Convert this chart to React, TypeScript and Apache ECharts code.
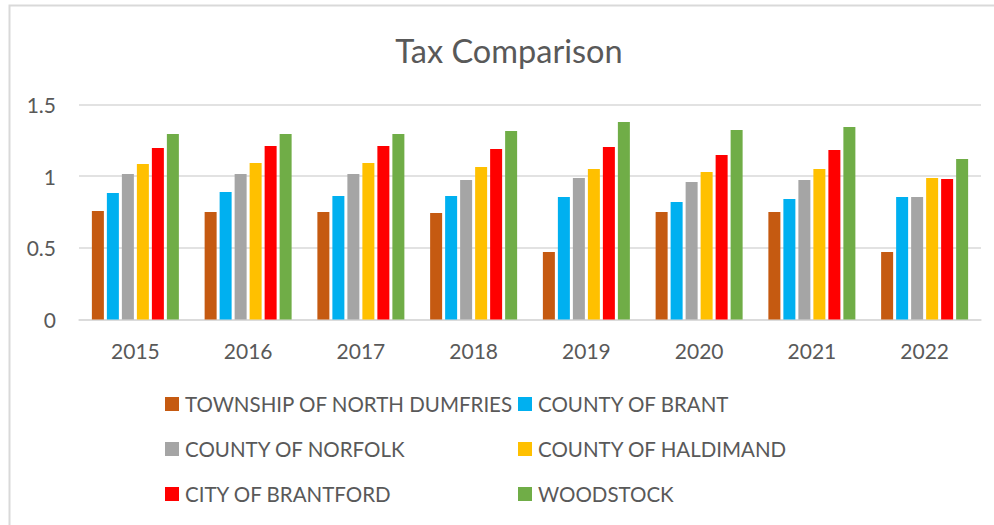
import React, { useEffect, useRef } from "react";
import * as echarts from "echarts";

const years = ["2015", "2016", "2017", "2018", "2019", "2020", "2021", "2022"];
const seriesNames = [
  "TOWNSHIP OF NORTH DUMFRIES",
  "COUNTY OF BRANT",
  "COUNTY OF NORFOLK",
  "COUNTY OF HALDIMAND",
  "CITY OF BRANTFORD",
  "WOODSTOCK",
];
const northDumfries = [0.757, 0.75, 0.75, 0.743, 0.471, 0.75, 0.75, 0.471];
const countyBrant = [0.883, 0.89, 0.862, 0.862, 0.855, 0.82, 0.841, 0.855];
const countyNorfolk = [1.015, 1.015, 1.015, 0.973, 0.987, 0.959, 0.973, 0.855];
const countyHaldimand = [1.085, 1.092, 1.092, 1.064, 1.05, 1.029, 1.05, 0.987];
const cityBrantford = [1.197, 1.211, 1.211, 1.19, 1.204, 1.148, 1.183, 0.98];
const woodstock = [1.294, 1.294, 1.294, 1.315, 1.378, 1.322, 1.343, 1.12];
const seriesData = [northDumfries, countyBrant, countyNorfolk, countyHaldimand, cityBrantford, woodstock];
const colors = ["#C55A11", "#00B0F0", "#A5A5A5", "#FFC000", "#FF0000", "#70AD47"];
const yTicks = { min: 0, max: 1.5, interval: 0.5 };

const FONT = "Lato";
const TEXT = "#595959";

export default function App() {
  const ref = useRef<HTMLDivElement>(null);
  useEffect(() => {
    if (!ref.current) return;
    const chart = echarts.init(ref.current, undefined, { renderer: "svg" });
    const legendCommon = {
      orient: "vertical" as const,
      padding: 0,
      itemWidth: 14,
      itemHeight: 14,
      itemGap: 23,
      icon: "rect",
      selectedMode: false,
      textStyle: { color: TEXT, fontFamily: FONT, fontSize: 20.5, lineHeight: 22, padding: [0, 0, 0, 1] },
    };
    chart.setOption({
      animation: false,
      backgroundColor: "#ffffff",
      color: colors,
      graphic: [
        {
          type: "rect",
          shape: { x: 9.5, y: 5.5, width: 1200, height: 1200 },
          style: { fill: "none", stroke: "#D9D9D9", lineWidth: 2 },
          silent: true,
        },
        {
          type: "text",
          x: 509,
          y: 50,
          style: {
            text: "Tax Comparison",
            fill: TEXT,
            font: `400 32.5px ${FONT}`,
            textAlign: "center",
            textVerticalAlign: "middle",
          },
        },
      ],
      legend: [
        { ...legendCommon, left: 165, top: 393, data: [seriesNames[0], seriesNames[2], seriesNames[4]] },
        { ...legendCommon, left: 518, top: 393, data: [seriesNames[1], seriesNames[3], seriesNames[5]] },
      ],
      grid: { left: 79, right: 13, top: 104.5, bottom: 205.5, containLabel: false },
      xAxis: {
        type: "category",
        data: years,
        axisTick: { show: false },
        axisLine: { lineStyle: { color: "#D9D9D9", width: 1.5 } },
        axisLabel: { color: TEXT, fontFamily: FONT, fontSize: 21, margin: 20 },
      },
      yAxis: {
        type: "value",
        min: yTicks.min,
        max: yTicks.max,
        interval: yTicks.interval,
        axisLine: { show: false },
        axisTick: { show: false },
        splitLine: { lineStyle: { color: "#D9D9D9", width: 1.5 } },
        axisLabel: { color: TEXT, fontFamily: FONT, fontSize: 21, margin: 23 },
      },
      series: seriesNames.map((name, i) => ({
        name,
        type: "bar",
        data: seriesData[i],
        barWidth: 12,
        barGap: "25%",
        itemStyle: { color: colors[i] },
      })),
    });
    return () => chart.dispose();
  }, []);
  return (
    <div
      ref={ref}
      style={{ position: "fixed", left: 0, top: 0, width: 994, height: 525 }}
    />
  );
}
